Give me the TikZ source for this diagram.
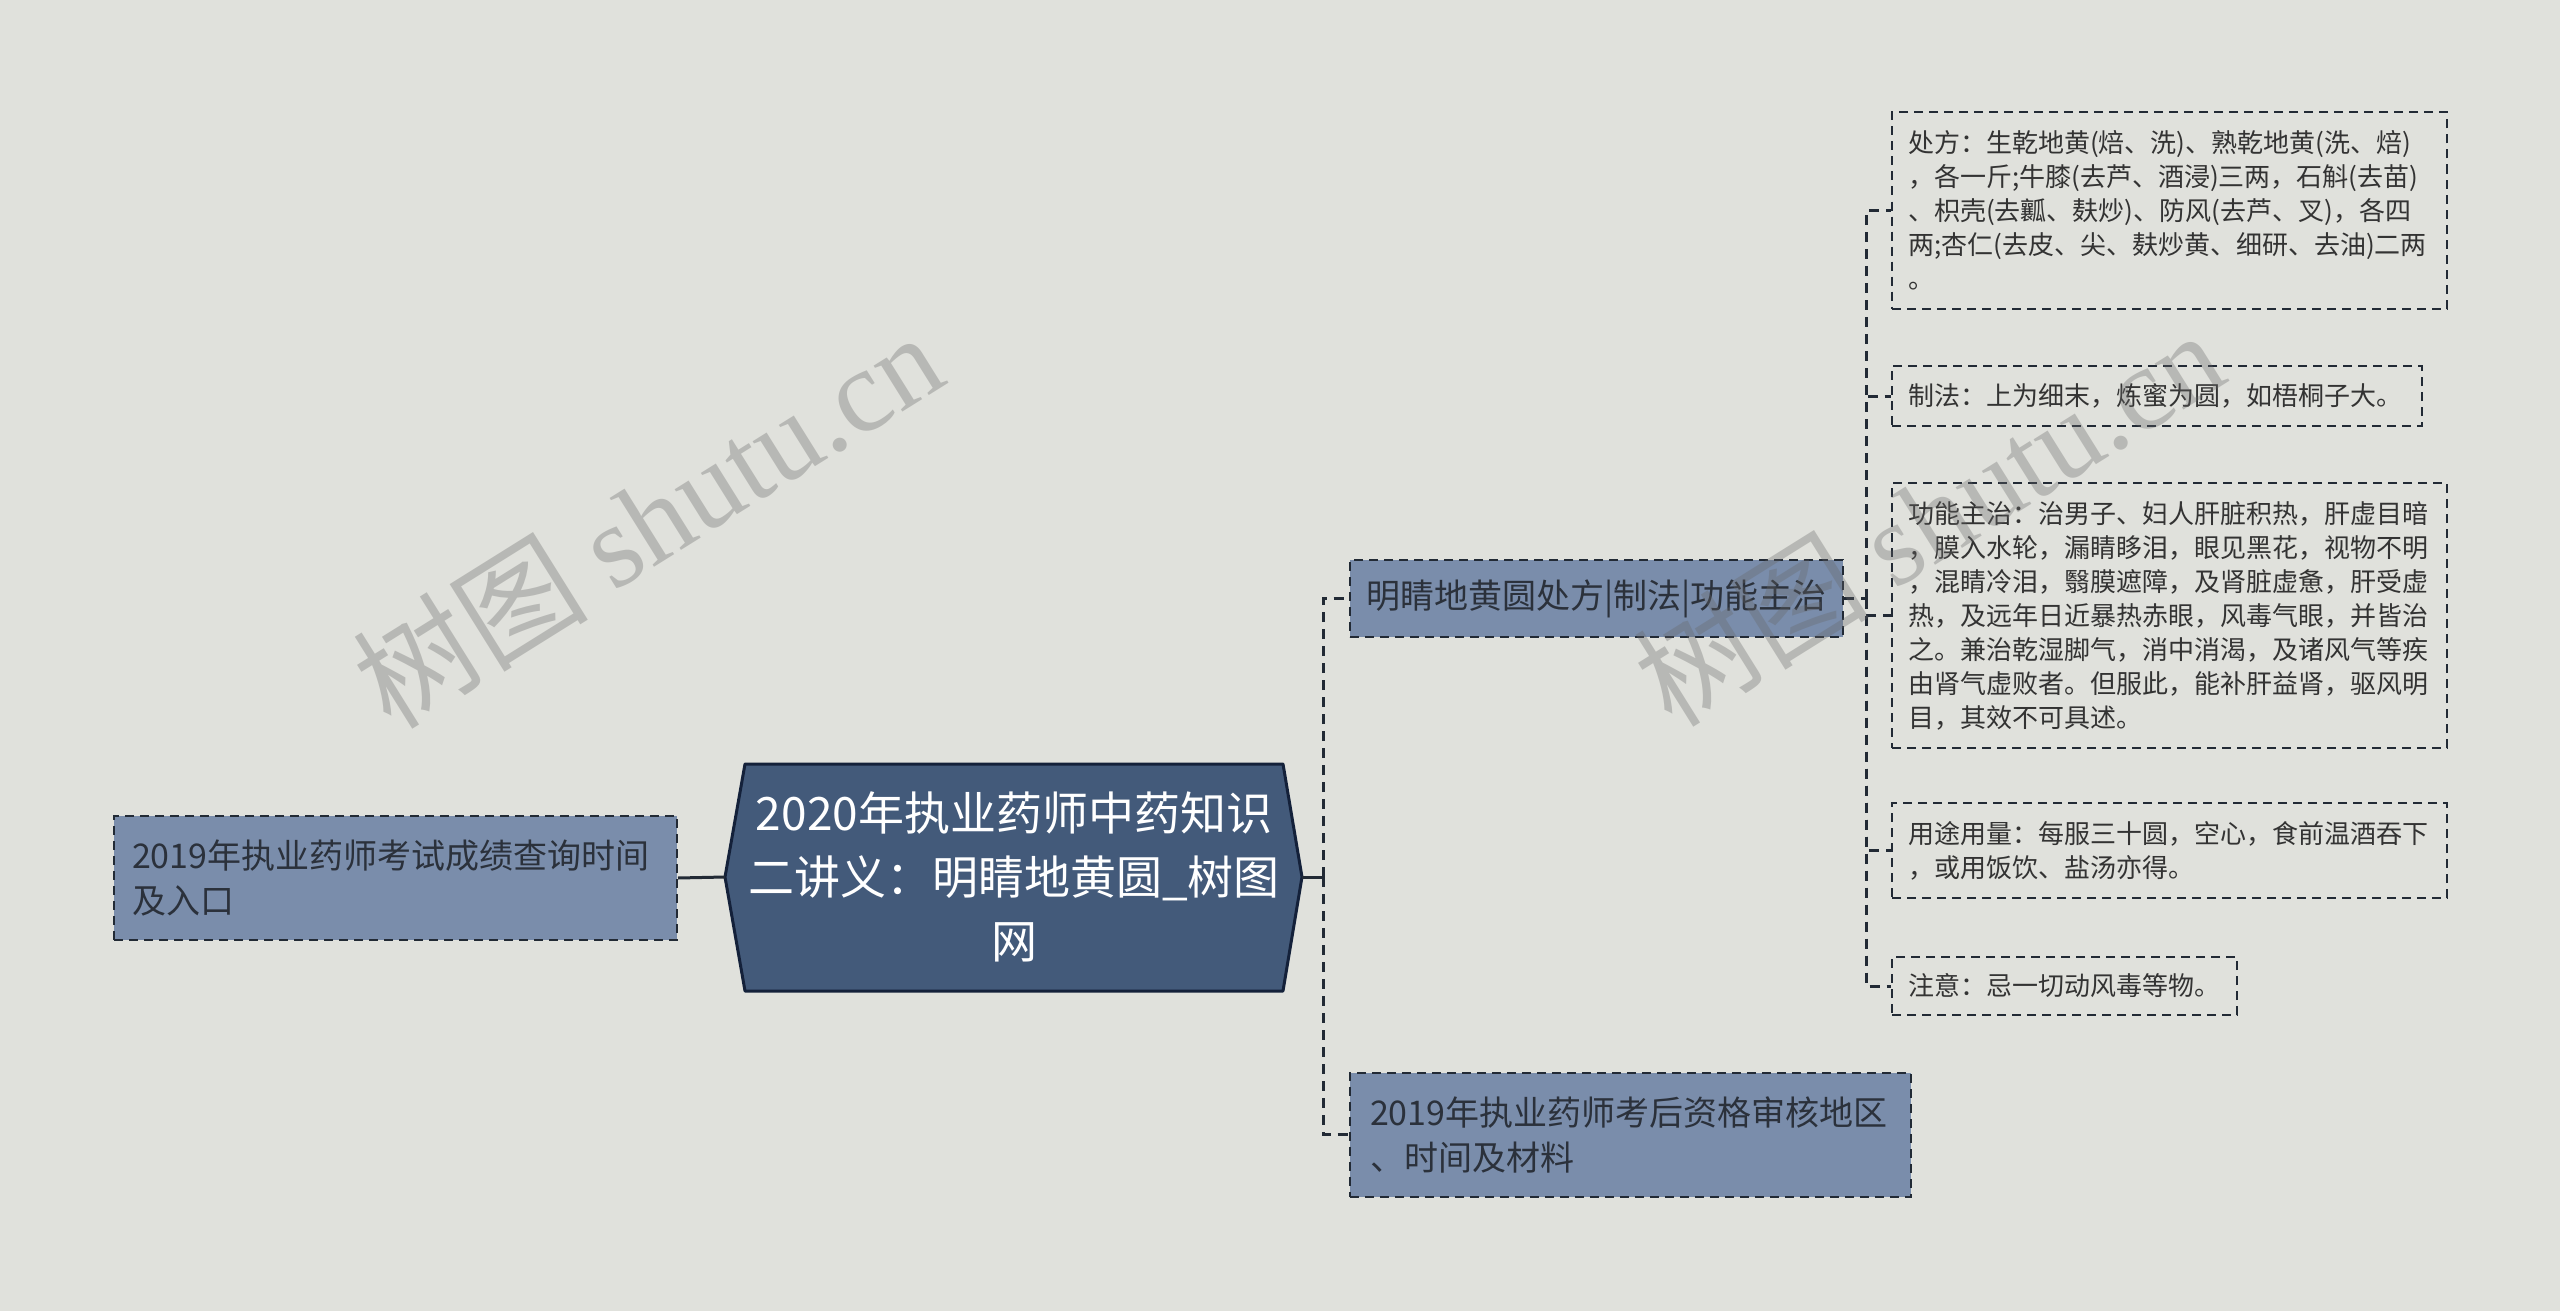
\documentclass[tikz,border=0pt]{standalone}
\usepackage{fontspec}
\setmainfont{Noto Sans CJK SC}
\newfontfamily\wmfont{Liberation Serif}
\usetikzlibrary{calc}
\definecolor{bgcol}{HTML}{E0E1DC}
\definecolor{cfill}{HTML}{435A7A}
\definecolor{cborder}{HTML}{14213A}
\definecolor{midfill}{HTML}{7A8DAB}
\definecolor{linecol}{HTML}{222A35}
\definecolor{leaftext}{HTML}{333333}
\definecolor{midtext}{HTML}{2B313B}
\tikzset{
  leafbox/.style={draw=linecol, line width=2pt, dash pattern=on 9pt off 6pt,
    inner xsep=16pt, inner ysep=0pt, align=left, anchor=west, text=leaftext,
    font=\fontsize{26}{34}\selectfont},
  midbox/.style={draw=linecol, fill=midfill, line width=2pt, dash pattern=on 9pt off 6pt,
    inner ysep=0pt, anchor=west, text=midtext, font=\fontsize{34}{45}\selectfont},
  conn/.style={draw=linecol, line width=3pt},
  conndash/.style={draw=linecol, line width=3pt, dash pattern=on 10pt off 7pt},
  wm/.style={text=black!60, opacity=0.33, font=\fontsize{118}{122}\selectfont, rotate=32}
}
\begin{document}
\begin{tikzpicture}[x=1pt,y=-1pt]
\useasboundingbox (0,0) rectangle (2560,1311);
\fill[bgcol] (0,0) rectangle (2560,1311);

% central node
\coordinate (cL) at (725,877);
\coordinate (cR) at (1302,877);
\filldraw[fill=cfill, draw=cborder, line width=3pt, line join=round]
  (745,764) -- (1283,764) -- (cR) -- (1283,991) -- (745,991) -- (cL) -- cycle;
\node[text=white, align=center, font=\fontsize{46}{64}\selectfont] (c) at (1014,877)
  {2020年执业药师中药知识\\二讲义：明睛地黄圆\_树图\\网};

% left node
\node[midbox, inner xsep=18pt, text width=527pt, minimum height=124pt, align=left] (L) at (113,878)
  {2019年执业药师考试成绩查询时间\\及入口};

% middle nodes
\node[midbox, minimum width=493pt, minimum height=77pt, inner xsep=0pt] (m1) at (1349,598.5)
  {明睛地黄圆处方|制法|功能主治};
\node[midbox, inner xsep=20pt, text width=521pt, minimum height=124pt, align=left] (m2) at (1349,1134.5)
  {2019年执业药师考后资格审核地区\\、时间及材料};

% leaves
\node[leafbox, text width=523pt, minimum height=196pt] (l1) at (1891,210.5)
  {处方：生乾地黄(焙、洗)、熟乾地黄(洗、焙)\\，各一斤;牛膝(去芦、酒浸)三两，石斛(去苗)\\、枳壳(去瓤、麸炒)、防风(去芦、叉)，各四\\两;杏仁(去皮、尖、麸炒黄、细研、去油)二两\\。};
\node[leafbox, text width=498pt, minimum height=60pt] (l2) at (1891,396)
  {制法：上为细末，炼蜜为圆，如梧桐子大。};
\node[leafbox, text width=523pt, minimum height=265pt] (l3) at (1891,615.5)
  {功能主治：治男子、妇人肝脏积热，肝虚目暗\\，膜入水轮，漏睛眵泪，眼见黑花，视物不明\\，混睛冷泪，翳膜遮障，及肾脏虚惫，肝受虚\\热，及远年日近暴热赤眼，风毒气眼，并皆治\\之。兼治乾湿脚气，消中消渴，及诸风气等疾\\由肾气虚败者。但服此，能补肝益肾，驱风明\\目，其效不可具述。};
\node[leafbox, text width=523pt, minimum height=95pt] (l4) at (1891,850.5)
  {用途用量：每服三十圆，空心，食前温酒吞下\\，或用饭饮、盐汤亦得。};
\node[leafbox, text width=313pt, minimum height=58pt] (l5) at (1891,986)
  {注意：忌一切动风毒等物。};

% connectors
\coordinate (j1) at (1323,877);
\coordinate (j2) at (1866,598.5);
\draw[conn] (L.east) -- (cL);
\draw[conn] (cR) -- (j1);
\draw[conndash] (j1) |- (m1.west);
\draw[conndash] (j1) |- (m2.west);
\draw[conndash] (m1.east) -- (j2);
\draw[conndash] (j2) |- (l1.west);
\draw[conndash] (j2) |- (l2.west);
\draw[conndash] (j2) |- (l3.west);
\draw[conndash] (j2) |- (l4.west);
\draw[conndash] (j2) |- (l5.west);

% watermarks
\node[wm] (w1) at (647,519) {树图 {\wmfont shutu.cn}};
\node[wm] (w2) at (1928,517) {树图 {\wmfont shutu.cn}};
\end{tikzpicture}
\end{document}
